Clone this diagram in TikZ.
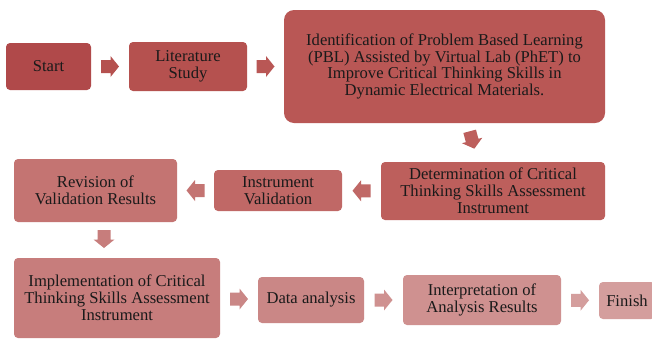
\documentclass[tikz,border=0pt]{standalone}
\usepackage{fontspec}
\setmainfont{Liberation Serif}
\usetikzlibrary{calc}
\definecolor{cA}{HTML}{B0494A}
\definecolor{cB}{HTML}{B5514F}
\definecolor{cC}{HTML}{B95755}
\definecolor{cD}{HTML}{BD5F5C}
\definecolor{cE}{HTML}{C06866}
\definecolor{cF}{HTML}{C47472}
\definecolor{cG}{HTML}{C77D7C}
\definecolor{cH}{HTML}{CA8786}
\definecolor{cI}{HTML}{CF9190}
\definecolor{cJ}{HTML}{D49E9D}
\definecolor{txt}{HTML}{1A1A1A}
\tikzset{
  box/.style={rectangle, rounded corners=4pt, inner sep=0pt, align=center,
    text=txt, font=\fontsize{16.6}{16.8}\selectfont},
  blockarrow/.pic={\fill (-9,-6.5) -- (0.5,-6.5) -- (0.5,-10.5) -- (9,0) -- (0.5,10.5) -- (0.5,6.5) -- (-9,6.5) -- cycle;}
}
\begin{document}
\begin{tikzpicture}[x=1pt,y=-1pt]
\clip (0,0) rectangle (652,338);
\fill[white] (0,0) rectangle (652,338);
\node[box, fill=cA, minimum width=85pt, minimum height=47pt] (start) at (48.5,66.5) {Start};
\node[box, fill=cB, minimum width=118pt, minimum height=49pt] (lit) at (188,66.5) {Literature\\Study};
\node[box, fill=cC, rounded corners=10pt, minimum width=321pt, minimum height=113pt] (ident) at (444.5,66.5)
  {Identification of Problem Based Learning\\(PBL) Assisted by Virtual Lab (PhET) to\\Improve Critical Thinking Skills in\\Dynamic Electrical Materials.};
\node[box, fill=cD, minimum width=224pt, minimum height=58pt] (det) at (493,191)
  {Determination of Critical\\Thinking Skills Assessment\\Instrument};
\node[box, fill=cE, minimum width=128pt, minimum height=41pt] (val) at (278,190.5) {Instrument\\Validation};
\node[box, fill=cF, minimum width=163pt, minimum height=63pt] (rev) at (95.5,190.5) {Revision of\\Validation Results};
\node[box, fill=cG, minimum width=206pt, minimum height=80pt] (impl) at (117,298)
  {Implementation of Critical\\Thinking Skills Assessment\\Instrument};
\node[box, fill=cH, minimum width=106pt, minimum height=46pt] (data) at (311,300) {Data analysis};
\node[box, fill=cI, minimum width=158pt, minimum height=50pt] (interp) at (482,300) {Interpretation of\\Analysis Results};
\node[box, fill=cJ, minimum width=56pt, minimum height=37pt] (finish) at (627,300.5) {Finish};

\coordinate (a1) at ($(start.east)!0.5!(lit.west)$);
\coordinate (a2) at ($(lit.east)!0.5!(ident.west)$);
\coordinate (a3) at (472,140);
\coordinate (a4) at ($(det.west)!0.5!(val.east)$);
\coordinate (a5) at ($(val.west)!0.5!(rev.east)$);
\coordinate (a6) at (104,239);
\coordinate (a7) at ($(impl.east)!0.5!(data.west)$);
\coordinate (a8) at ($(data.east)!0.5!(interp.west)$);
\coordinate (a9) at ($(interp.east)!0.5!(finish.west)$);
\pic[fill=cB] at (a1) {blockarrow};
\pic[fill=cC] at (a2) {blockarrow};
\pic[fill=cD, rotate=-75] at (a3) {blockarrow};
\pic[fill=cE, rotate=180] at (a4) {blockarrow};
\pic[fill=cF, rotate=180] at (a5) {blockarrow};
\pic[fill=cG, rotate=-90] at (a6) {blockarrow};
\pic[fill=cH] at (a7) {blockarrow};
\pic[fill=cI] at (a8) {blockarrow};
\pic[fill=cJ] at (a9) {blockarrow};
\end{tikzpicture}
\end{document}
